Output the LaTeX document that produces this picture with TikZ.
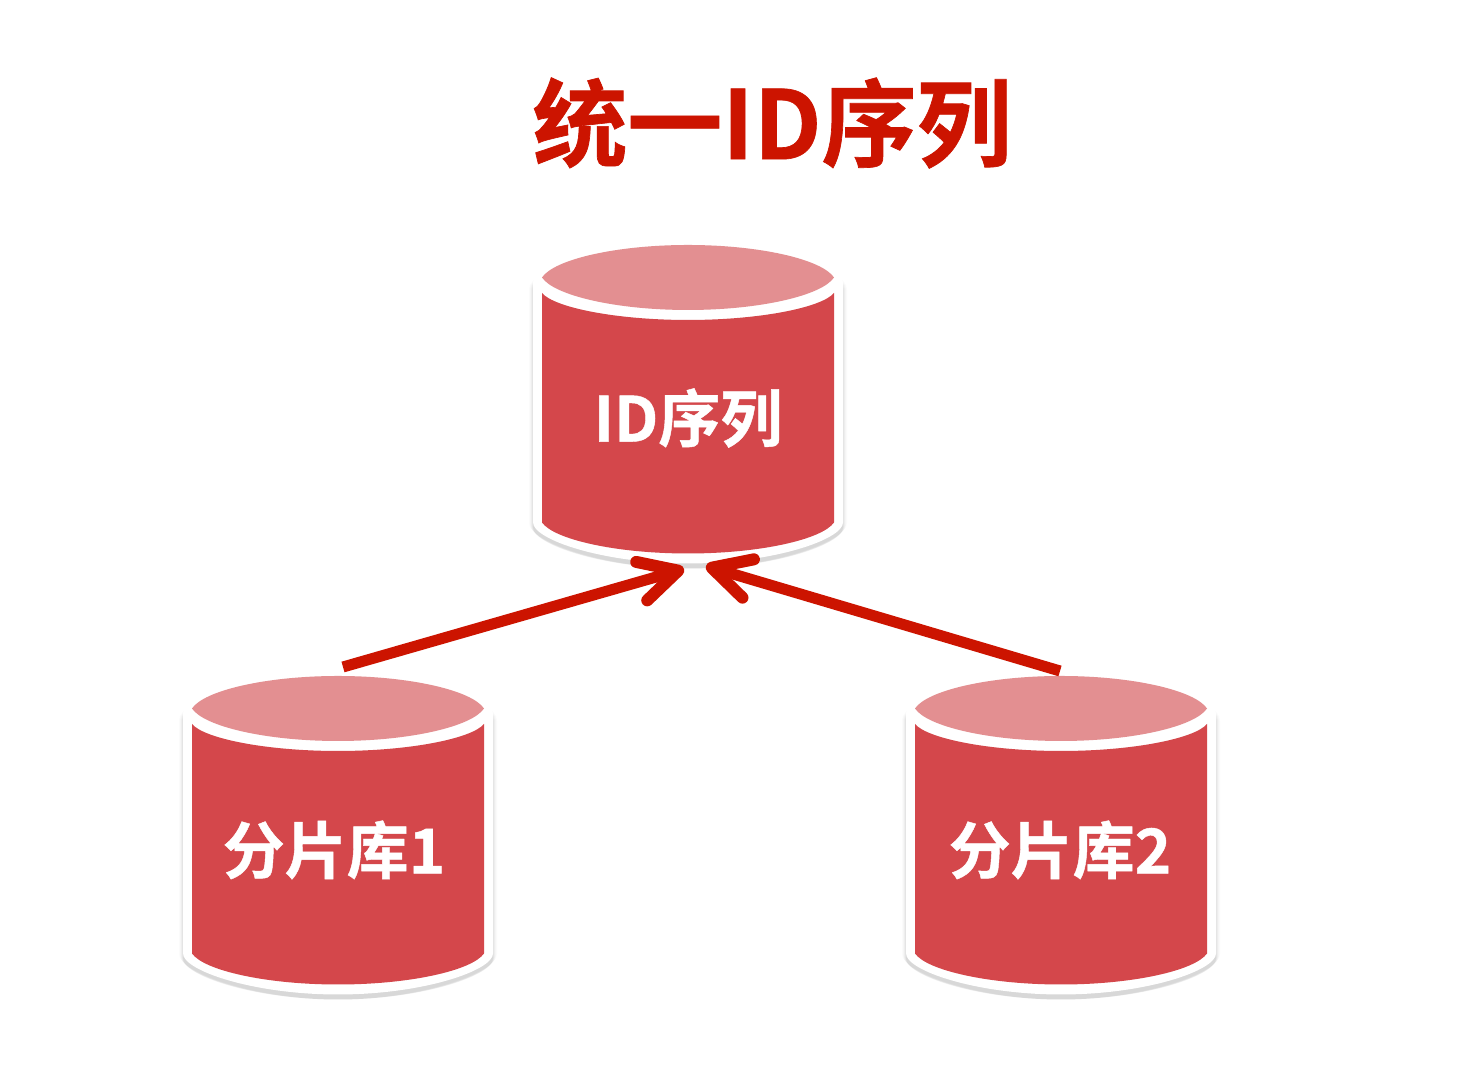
\documentclass[tikz,border=0pt]{standalone}
\usepackage{fontspec}
\setmainfont{Open Sans}
\newfontfamily\cjkb[FakeBold=0.7]{Noto Sans CJK SC Bold}
\usetikzlibrary{arrows.meta}
\definecolor{dbbody}{HTML}{D4474B}
\definecolor{dbtop}{HTML}{E38F91}
\definecolor{accent}{HTML}{CC1400}
\tikzset{
  dbtext/.style={text=white,font=\cjkb\fontsize{31}{34}\selectfont,inner sep=0pt},
  link/.style={draw=accent,line width=5.5pt,line cap=butt,line join=round,
    -{Straight Barb[length=19pt,width=20pt,line width=6pt,round]}}
}
\newcommand{\dbcyl}[2]{%
  \begin{scope}[shift={(#1,#2)}]
    \foreach \o/\s/\w in {1/4/.015,2/3/.02,3/2/.03,4/1/.04,5/0/.05}{
      \fill[black,opacity=\w] (-155-\s,-12) .. controls (-155-\s,8) and (-90,36) .. (0,36)
        .. controls (90,36) and (155+\s,8) .. (155+\s,-12)
        -- (155+\s,-245-\o) .. controls (155+\s,-262-\o) and (85,-286-\o-\s) .. (0,-286-\o-\s)
        .. controls (-85,-286-\o-\s) and (-155-\s,-262-\o) .. (-155-\s,-245-\o) -- cycle;
    }
    \fill[white] (-155,-5) .. controls (-155,14) and (-85,41) .. (0,41)
        .. controls (85,41) and (155,14) .. (155,-5)
        -- (155,-245) .. controls (155,-262) and (85,-286) .. (0,-286)
        .. controls (-85,-286) and (-155,-262) .. (-155,-245) -- cycle;
    \fill[dbbody] (-146,-15.5) -- (-146,-245) .. controls (-134,-262) and (-72,-276) .. (0,-276)
        .. controls (72,-276) and (134,-262) .. (146,-245)
        -- (146,-15.5) .. controls (134,-30) and (72,-42.5) .. (0,-42.5)
        .. controls (-72,-42.5) and (-134,-30) .. (-146,-15.5) -- cycle;
    \fill[dbtop] (-146,0) .. controls (-134,18) and (-72,32.5) .. (0,32.5)
        .. controls (72,32.5) and (134,18) .. (146,0)
        .. controls (134,-18) and (72,-32.5) .. (0,-32.5)
        .. controls (-72,-32.5) and (-134,-18) .. (-146,0) -- cycle;
  \end{scope}}
\begin{document}
\begin{tikzpicture}[x=.5pt,y=.5pt]
  \useasboundingbox (0,0) rectangle (1472,1074);
  \fill[white] (0,0) rectangle (1472,1074);
  \dbcyl{688}{796.5}
  \dbcyl{338}{365.5}
  \dbcyl{1061}{365.5}
  \node[text=accent,font=\cjkb\fontsize{47.5}{50}\selectfont,inner sep=0pt] (title) at (772,951) {统一ID序列};
  \node[dbtext] (seq) at (688,656) {ID序列};
  \node[dbtext] (shardA) at (334,224) {分片库1};
  \node[dbtext] (shardB) at (1060,224) {分片库2};
  \coordinate (fromA) at (343,407);
  \coordinate (fromB) at (1060,403);
  \coordinate (intoA) at (684,505);
  \coordinate (intoB) at (706,508);
  \draw[link] (fromA) -- (intoA);
  \draw[link] (fromB) -- (intoB);
\end{tikzpicture}
\end{document}
